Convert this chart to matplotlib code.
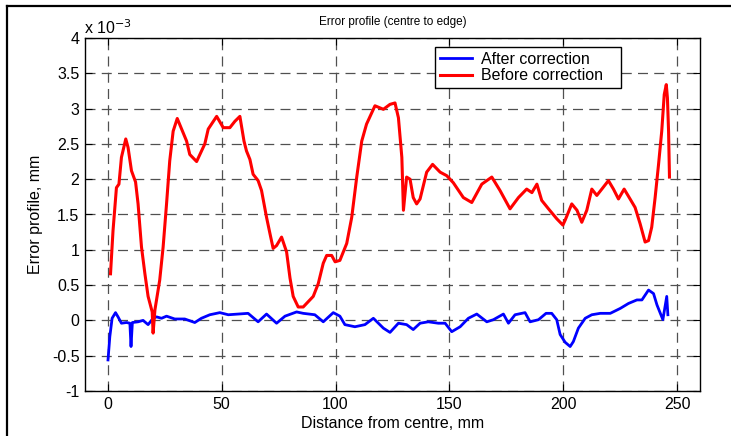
import numpy as np
import matplotlib.pyplot as plt
from matplotlib.lines import Line2D

plt.rcParams['font.family'] = ['Liberation Sans', 'DejaVu Sans']

# error profile before correction (x in mm, y in 1e-3 mm)
x_before = [1.2, 2.3, 3.8, 4.9, 6.0, 7.9, 8.9, 10.4, 12.2, 13.3, 14.8, 16.3, 17.7, 19.5,
            19.9, 20.7, 22.8, 24.3, 25.8, 27.2, 28.7, 30.5, 34.6, 36.0, 39.0, 42.6, 44.1,
            47.8, 50.7, 53.6, 55.8, 58.0, 59.8, 60.9, 62.4, 63.8, 66.0, 67.5, 69.7, 71.2,
            72.6, 74.1, 76.3, 78.5, 80.0, 81.4, 83.6, 85.8, 90.2, 92.4, 94.6, 96.1, 98.3,
            99.8, 101.9, 104.9, 107.1, 109.3, 111.5, 113.6, 117.3, 121.0, 123.9, 126.1,
            127.6, 129.1, 129.8, 131.2, 132.7, 134.1, 135.6, 137.1, 140.0, 142.6, 145.9,
            148.8, 151.7, 156.1, 159.8, 164.2, 168.6, 172.2, 176.6, 180.3, 183.9, 186.2,
            188.4, 190.5, 193.5, 197.1, 199.8, 200.8, 203.7, 206.0, 208.1, 210.3, 212.5,
            214.7, 216.9, 219.8, 222.0, 224.2, 226.7, 229.3, 231.5, 233.7, 235.9, 237.4,
            238.8, 240.3, 241.8, 243.2, 244.3, 245.2, 245.7, 246.2, 246.6]
y_before = [0.66, 1.27, 1.88, 1.93, 2.31, 2.57, 2.45, 2.12, 1.96, 1.65, 1.04, 0.66, 0.34, 0.12,
            -0.18, 0.15, 0.57, 1.04, 1.65, 2.26, 2.68, 2.86, 2.54, 2.35, 2.25, 2.50, 2.71,
            2.89, 2.73, 2.73, 2.82, 2.89, 2.54, 2.40, 2.28, 2.07, 1.98, 1.84, 1.46, 1.23,
            1.02, 1.06, 1.18, 0.97, 0.60, 0.34, 0.19, 0.19, 0.34, 0.52, 0.81, 0.92, 0.92,
            0.83, 0.85, 1.09, 1.46, 2.03, 2.54, 2.78, 3.04, 2.99, 3.06, 3.08,
            2.87, 2.31, 1.56, 2.03, 2.00, 1.74, 1.65, 1.72, 2.10, 2.21, 2.10,
            2.05, 1.95, 1.74, 1.67, 1.93, 2.03, 1.84, 1.58, 1.74, 1.86, 1.81,
            1.93, 1.70, 1.58, 1.44, 1.35, 1.42, 1.65, 1.56, 1.39, 1.56, 1.86,
            1.77, 1.86, 1.98, 1.86, 1.72, 1.86, 1.72, 1.60, 1.37, 1.11, 1.13,
            1.32, 1.74, 2.21, 2.68, 3.20, 3.34, 3.15, 2.68, 2.03]

# error profile after correction
x_after = [0.1, 0.9, 1.9, 3.4, 4.5, 6.0, 8.2, 9.7, 10.2, 10.8, 13.3, 15.5, 17.7, 19.9, 21.4,
           23.6, 25.8, 29.4, 33.8, 38.2, 41.1, 44.8, 49.2, 52.9, 57.3, 61.6, 66.0, 69.7,
           74.1, 77.8, 82.9, 85.8, 90.9, 94.6, 99.0, 101.9, 104.1, 108.5, 112.9, 116.6,
           121.0, 123.9, 127.6, 131.2, 134.1, 137.1, 140.7, 145.1, 148.1, 151.0, 154.7,
           158.3, 162.0, 166.4, 169.3, 173.7, 175.9, 178.8, 183.2, 185.4, 189.1, 192.4,
           194.9, 197.1, 198.6, 200.8, 203.0, 204.4, 206.6, 209.6, 212.5, 216.2, 220.6,
           225.0, 228.6, 232.3, 234.5, 237.4, 239.6, 241.1, 243.7, 245.4, 245.9]
y_after = [-0.56, -0.23, 0.03, 0.11, 0.05, -0.04, -0.03, -0.04, -0.37, -0.03, -0.02, 0.0,
           -0.06, 0.03, 0.05, 0.03, 0.06, 0.02, 0.02, -0.03, 0.03, 0.08, 0.11, 0.08, 0.09,
           0.10, -0.02, 0.09, -0.04, 0.06, 0.12, 0.10, 0.08, -0.02, 0.11, 0.06, -0.06,
           -0.09, -0.06, 0.03, -0.11, -0.17, -0.04, -0.06, -0.13, -0.04, -0.02, -0.04,
           -0.04, -0.16, -0.09, 0.03, 0.09, -0.02, 0.01, 0.09, -0.04, 0.08, 0.11, -0.02,
           0.01, 0.10, 0.10, 0.01, -0.20, -0.31, -0.37, -0.30, -0.11, 0.03, 0.08, 0.10,
           0.10, 0.17, 0.24, 0.29, 0.29, 0.43, 0.38, 0.22, 0.01, 0.34, 0.08]

x_ticks = [0, 50, 100, 150, 200, 250]
y_ticks = [-1, -0.5, 0, 0.5, 1, 1.5, 2, 2.5, 3, 3.5, 4]
y_ticklabels = ['-1', '-0.5', '0', '0.5', '1', '1.5', '2', '2.5', '3', '3.5', '4']

W, H = 731, 436
fs = 11.5
fig = plt.figure(figsize=(W / 100, H / 100), dpi=100)
ax = fig.add_axes([85 / W, 1 - 391 / H, 615 / W, 353 / H])

ax.plot(x_after, y_after, color='#0000ff', lw=2.0, label='After correction')
ax.plot(x_before, y_before, color='#ff0000', lw=2.2, label='Before correction')

ax.set_xlim(-10, 260)
ax.set_ylim(-1, 4)
ax.set_xticks(x_ticks)
ax.set_yticks(y_ticks)
ax.set_yticklabels(y_ticklabels)
ax.tick_params(direction='in', top=True, right=True, length=5, width=0.8,
               labelsize=fs, pad=4)
ax.grid(True, color='#505050', linestyle=(0, (8, 5)), linewidth=0.9)
for sp in ax.spines.values():
    sp.set_linewidth(1.0)

ax.set_title('Error profile (centre to edge)', fontsize=8.5, pad=9)
ax.set_xlabel('Distance from centre, mm', fontsize=fs, labelpad=3)
ax.set_ylabel('Error profile, mm', fontsize=fs, labelpad=6)
fig.text(84 / W, 1 - 34 / H, 'x 10$^{-3}$', fontsize=fs, ha='left', va='baseline')

leg = ax.legend(loc='upper left', bbox_to_anchor=(0.569, 0.863, 0.302, 0.112),
                mode='expand', fontsize=fs,
                fancybox=False, framealpha=1, edgecolor='black',
                handlelength=2.0, handletextpad=0.6, labelspacing=0.1,
                borderpad=0.3, borderaxespad=0)
leg.get_frame().set_linewidth(1.0)

# outer frame (top and left edges of the original screenshot)
fig.add_artist(Line2D([7 / W, 1], [1 - 6 / H, 1 - 6 / H], color='black', lw=1.6))
fig.add_artist(Line2D([7 / W, 7 / W], [0, 1 - 6 / H], color='black', lw=1.6))

fig.savefig('out.png', dpi=100)
